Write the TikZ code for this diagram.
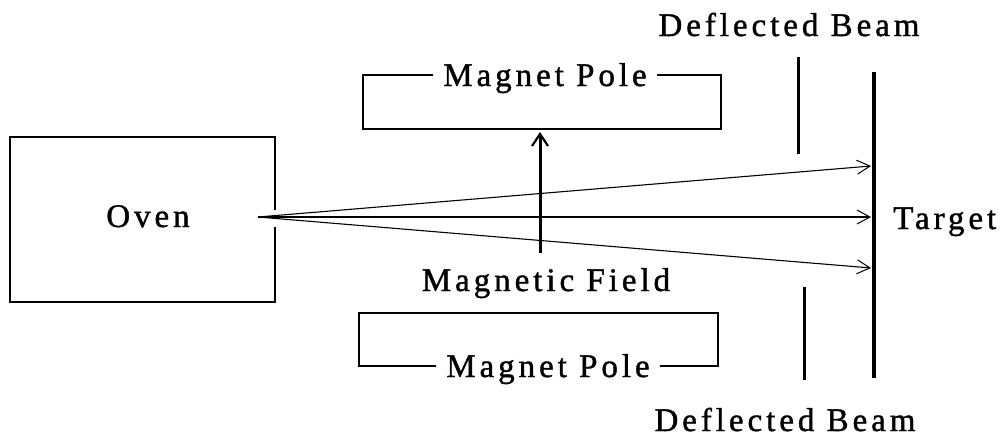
\documentclass[tikz,border=0pt]{standalone}
\usepackage{fontspec}
\setmainfont{Liberation Serif}[LetterSpace=12, FakeBold=1.2]
\usetikzlibrary{arrows.meta}
\begin{document}
\begin{tikzpicture}[x=1pt,y=-1pt,
  lbl/.style={font=\fontsize{33}{38}\selectfont, inner sep=0pt, anchor=base},
  gaplbl/.style={lbl, fill=white, inner xsep=10pt, inner ysep=2pt},
  box/.style={draw, line width=1.4pt},
  beam/.style={line width=1.1pt, -{Straight Barb[length=13pt, width=14pt, line width=1pt]}},
  bar/.style={line width=3pt},
  field/.style={line width=3pt, -{Straight Barb[length=12pt, width=16pt, line width=2.2pt]}}]
\useasboundingbox (0,0) rectangle (1007,442);
% oven
\draw[box] (275,210) -- (275,137) -- (10,137) -- (10,302) -- (275,302) -- (275,227);
\node[lbl] (oven) at (148,227) {Oven};
\coordinate (src) at (258,217);
% magnet poles
\draw[box] (363,75) rectangle (721,129);
\node[gaplbl] (toppole) at (545,86) {Magnet Pole};
\draw[box] (359,313) rectangle (718,366);
\node[gaplbl] (botpole) at (548,377) {Magnet Pole};
% field
\coordinate (fbot) at (540,253);
\coordinate (ftop) at (540,132);
\draw[field] (fbot) -- (ftop);
\node[lbl] (field) at (546,291) {Magnetic Field};
% target
\coordinate (ttop) at (874,72);
\coordinate (tbot) at (874,378);
\draw[line width=4pt] (ttop) -- (tbot);
\node[lbl, anchor=base west] (target) at (893,229) {Target};
% slits
\coordinate (s1a) at (798,57);
\coordinate (s1b) at (798,154);
\coordinate (s2a) at (804,287);
\coordinate (s2b) at (804,380);
\draw[bar] (s1a) -- (s1b);
\draw[bar] (s2a) -- (s2b);
\node[lbl] (dtop) at (789,36) {Deflected Beam};
\node[lbl] (dbot) at (785,431) {Deflected Beam};
% beams
\coordinate (e1) at (871,166);
\coordinate (e2) at (871,217);
\coordinate (e3) at (871,268);
\draw[beam] (src) -- (e1);
\draw[beam] (src) -- (e2);
\draw[beam] (src) -- (e3);
\end{tikzpicture}
\end{document}
